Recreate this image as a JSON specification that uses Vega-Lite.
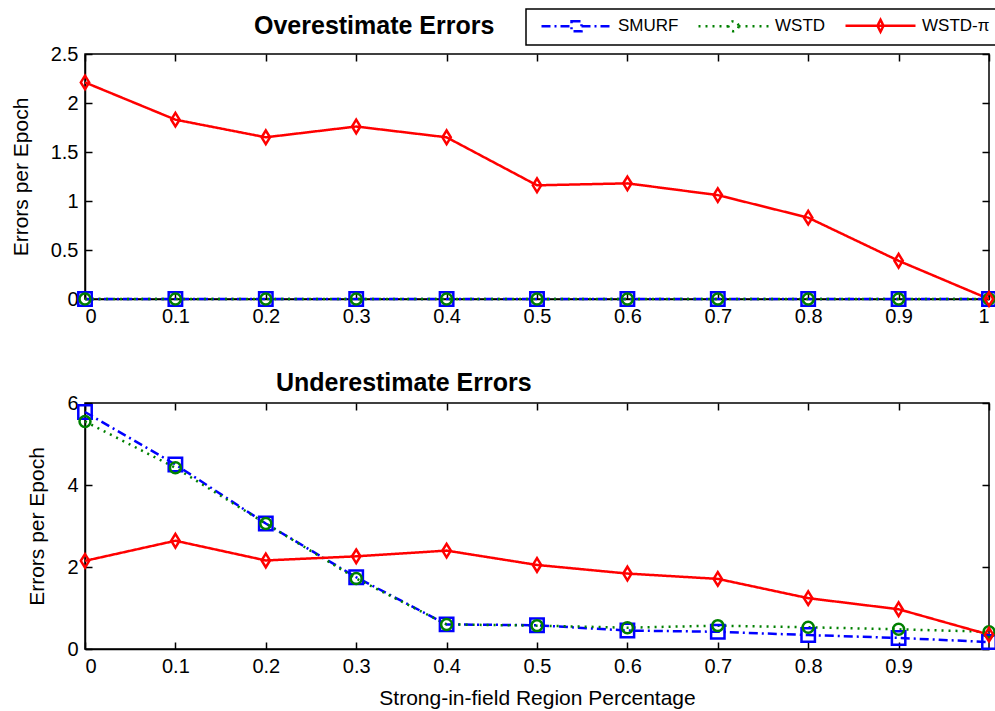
{
  "$schema": "https://vega.github.io/schema/vega-lite/v6.json",
  "background": "white",
  "padding": {"left": 9, "top": 8, "right": 0, "bottom": 0},
  "config": {
    "font": "Liberation Sans",
    "view": {"stroke": "black", "strokeWidth": 1.5},
    "axis": {
      "grid": false, "domainColor": "black", "domainWidth": 1.5, "tickColor": "black", "tickWidth": 1.5,
      "tickSize": -7, "labelPadding": 14, "labelColor": "black", "labelFontSize": 20, "labelFont": "Liberation Sans",
      "titleColor": "black", "titleFontSize": 21, "titleFontWeight": "normal", "titleFont": "Liberation Sans"
    },
    "axisY": {"titlePadding": 19},
    "axisX": {"titlePadding": 11},
    "title": {"fontSize": 25, "fontWeight": "bold", "color": "black", "anchor": "start", "frame": "group", "font": "Liberation Sans"},
    "legend": {
      "orient": "none", "legendX": 441, "legendY": -45, "direction": "horizontal", "title": null,
      "strokeColor": "black", "fillColor": "white", "padding": 8, "cornerRadius": 0, "strokeWidth": 1.5,
      "labelFontSize": 17, "labelColor": "black", "labelFont": "Liberation Sans",
      "symbolSize": 100, "symbolStrokeWidth": 2.5, "symbolOffset": 34, "labelOffset": 33, "columnPadding": 12,
      "symbolFillColor": "transparent"
    },
    "concat": {"spacing": 43}
  },
  "datasets": {
    "d": [
      {"p": 0.0, "series": "SMURF", "over": 0, "under": 5.78},
      {"p": 0.1, "series": "SMURF", "over": 0, "under": 4.5},
      {"p": 0.2, "series": "SMURF", "over": 0, "under": 3.06},
      {"p": 0.3, "series": "SMURF", "over": 0, "under": 1.75},
      {"p": 0.4, "series": "SMURF", "over": 0, "under": 0.6},
      {"p": 0.5, "series": "SMURF", "over": 0, "under": 0.58},
      {"p": 0.6, "series": "SMURF", "over": 0, "under": 0.45},
      {"p": 0.7, "series": "SMURF", "over": 0, "under": 0.42},
      {"p": 0.8, "series": "SMURF", "over": 0, "under": 0.34},
      {"p": 0.9, "series": "SMURF", "over": 0, "under": 0.27},
      {"p": 1.0, "series": "SMURF", "over": 0, "under": 0.17},
      {"p": 0.0, "series": "WSTD", "over": 0, "under": 5.55},
      {"p": 0.1, "series": "WSTD", "over": 0, "under": 4.42},
      {"p": 0.2, "series": "WSTD", "over": 0, "under": 3.06},
      {"p": 0.3, "series": "WSTD", "over": 0, "under": 1.72},
      {"p": 0.4, "series": "WSTD", "over": 0, "under": 0.6},
      {"p": 0.5, "series": "WSTD", "over": 0, "under": 0.57},
      {"p": 0.6, "series": "WSTD", "over": 0, "under": 0.52},
      {"p": 0.7, "series": "WSTD", "over": 0, "under": 0.57},
      {"p": 0.8, "series": "WSTD", "over": 0, "under": 0.53},
      {"p": 0.9, "series": "WSTD", "over": 0, "under": 0.48},
      {"p": 1.0, "series": "WSTD", "over": 0, "under": 0.42},
      {"p": 0.0, "series": "WSTD-π", "over": 2.21, "under": 2.15},
      {"p": 0.1, "series": "WSTD-π", "over": 1.83, "under": 2.64},
      {"p": 0.2, "series": "WSTD-π", "over": 1.65, "under": 2.16},
      {"p": 0.3, "series": "WSTD-π", "over": 1.76, "under": 2.26},
      {"p": 0.4, "series": "WSTD-π", "over": 1.65, "under": 2.4},
      {"p": 0.5, "series": "WSTD-π", "over": 1.16, "under": 2.05},
      {"p": 0.6, "series": "WSTD-π", "over": 1.18, "under": 1.84},
      {"p": 0.7, "series": "WSTD-π", "over": 1.06, "under": 1.71},
      {"p": 0.8, "series": "WSTD-π", "over": 0.83, "under": 1.24},
      {"p": 0.9, "series": "WSTD-π", "over": 0.39, "under": 0.97},
      {"p": 1.0, "series": "WSTD-π", "over": 0.0, "under": 0.35}
    ]
  },
  "resolve": {"scale": {"y": "independent"}},
  "vconcat": [
    {
      "width": 904, "height": 245,
      "title": {"text": "Overestimate Errors", "dx": 169, "offset": 5},
      "data": {"name": "d"},
      "resolve": {"axis": {"x": "independent", "y": "independent"}},
      "layer": [
        {
          "mark": {"type": "line", "strokeWidth": 2.5},
          "encoding": {
            "x": {"field": "p", "type": "quantitative", "scale": {"domain": [0, 1], "nice": false},
                  "axis": {"values": [0,0.1,0.2,0.3,0.4,0.5,0.6,0.7,0.8,0.9,1], "format": "~g", "title": null}},
            "y": {"field": "over", "type": "quantitative", "scale": {"domain": [0, 2.5], "nice": false},
                  "axis": {"values": [0,0.5,1,1.5,2,2.5], "format": "~g", "title": "Errors per Epoch"}},
            "color": {"field": "series", "type": "nominal", "scale": {"domain": ["SMURF", "WSTD", "WSTD-π"], "range": ["#0000ff", "#008000", "#ff0000"]}},
            "strokeDash": {"field": "series", "type": "nominal", "scale": {"domain": ["SMURF", "WSTD", "WSTD-π"], "range": [[9, 4, 2, 4], [2, 5], [1, 0]]}}
          }
        },
        {
          "transform": [{"filter": "datum.series == 'SMURF'"}],
          "mark": {"type": "point", "shape": "square", "size": 180, "filled": false, "strokeWidth": 2.5, "opacity": 1},
          "encoding": {
            "x": {"field": "p", "type": "quantitative", "axis": null},
            "y": {"field": "over", "type": "quantitative", "axis": null},
            "color": {"field": "series", "type": "nominal"}
          }
        },
        {
          "transform": [{"filter": "datum.series == 'WSTD'"}],
          "mark": {"type": "point", "shape": "circle", "size": 120, "filled": false, "strokeWidth": 2.5, "opacity": 1},
          "encoding": {
            "x": {"field": "p", "type": "quantitative", "axis": null},
            "y": {"field": "over", "type": "quantitative", "axis": null},
            "color": {"field": "series", "type": "nominal"}
          }
        },
        {
          "transform": [{"filter": "datum.series == 'WSTD-π'"}],
          "mark": {"type": "point", "shape": "M0,-1.3L0.8,0L0,1.3L-0.8,0Z", "size": 110, "filled": false, "strokeWidth": 2.5, "opacity": 1},
          "encoding": {
            "x": {"field": "p", "type": "quantitative", "axis": null},
            "y": {"field": "over", "type": "quantitative", "axis": null},
            "color": {"field": "series", "type": "nominal"}
          }
        },
        {
          "mark": {"type": "point", "opacity": 0},
          "encoding": {
            "x": {"field": "p", "type": "quantitative", "axis": {"orient": "top", "labels": false, "title": null, "domain": false, "values": [0,0.1,0.2,0.3,0.4,0.5,0.6,0.7,0.8,0.9,1]}},
            "y": {"field": "over", "type": "quantitative", "axis": {"orient": "right", "labels": false, "title": null, "domain": false, "values": [0,0.5,1,1.5,2,2.5]}}
          }
        },
        {
          "transform": [{"filter": "datum.p > 5"}],
          "mark": {"type": "point", "filled": false, "strokeWidth": 2.5},
          "encoding": {
            "color": {"field": "series", "type": "nominal"},
            "strokeDash": {"field": "series", "type": "nominal"},
            "shape": {"field": "series", "type": "nominal", "scale": {"domain": ["SMURF", "WSTD", "WSTD-π"], "range": [
              "M-7,0H-1M1,0H7M-1,-1H1V1H-1Z",
              "M-7,0H-1M1,0H7M1,0A1,1 0 1,1 -1,0A1,1 0 1,1 1,0Z",
              "M-7,0H7M0,-1.2L0.6,0L0,1.2L-0.6,0Z"
            ]}}
          }
        }
      ]
    },
    {
      "width": 904, "height": 246,
      "title": {"text": "Underestimate Errors", "dx": 191, "offset": 0, "dy": 3},
      "data": {"name": "d"},
      "resolve": {"axis": {"x": "independent", "y": "independent"}},
      "layer": [
        {
          "mark": {"type": "line", "strokeWidth": 2.5},
          "encoding": {
            "x": {"field": "p", "type": "quantitative", "scale": {"domain": [0, 1], "nice": false},
                  "axis": {"values": [0,0.1,0.2,0.3,0.4,0.5,0.6,0.7,0.8,0.9], "format": "~g", "title": "Strong-in-field Region Percentage"}},
            "y": {"field": "under", "type": "quantitative", "scale": {"domain": [0, 6], "nice": false},
                  "axis": {"values": [0,2,4,6], "format": "~g", "title": "Errors per Epoch"}},
            "color": {"field": "series", "type": "nominal"},
            "strokeDash": {"field": "series", "type": "nominal"}
          }
        },
        {
          "transform": [{"filter": "datum.series == 'SMURF'"}],
          "mark": {"type": "point", "shape": "square", "size": 180, "filled": false, "strokeWidth": 2.5, "opacity": 1},
          "encoding": {
            "x": {"field": "p", "type": "quantitative", "axis": null},
            "y": {"field": "under", "type": "quantitative", "axis": null},
            "color": {"field": "series", "type": "nominal"}
          }
        },
        {
          "transform": [{"filter": "datum.series == 'WSTD'"}],
          "mark": {"type": "point", "shape": "circle", "size": 120, "filled": false, "strokeWidth": 2.5, "opacity": 1},
          "encoding": {
            "x": {"field": "p", "type": "quantitative", "axis": null},
            "y": {"field": "under", "type": "quantitative", "axis": null},
            "color": {"field": "series", "type": "nominal"}
          }
        },
        {
          "transform": [{"filter": "datum.series == 'WSTD-π'"}],
          "mark": {"type": "point", "shape": "M0,-1.3L0.8,0L0,1.3L-0.8,0Z", "size": 110, "filled": false, "strokeWidth": 2.5, "opacity": 1},
          "encoding": {
            "x": {"field": "p", "type": "quantitative", "axis": null},
            "y": {"field": "under", "type": "quantitative", "axis": null},
            "color": {"field": "series", "type": "nominal"}
          }
        },
        {
          "mark": {"type": "point", "opacity": 0},
          "encoding": {
            "x": {"field": "p", "type": "quantitative", "axis": {"orient": "top", "labels": false, "title": null, "domain": false, "values": [0,0.1,0.2,0.3,0.4,0.5,0.6,0.7,0.8,0.9,1]}},
            "y": {"field": "under", "type": "quantitative", "axis": {"orient": "right", "labels": false, "title": null, "domain": false, "values": [0,2,4,6]}}
          }
        }
      ]
    }
  ]
}
